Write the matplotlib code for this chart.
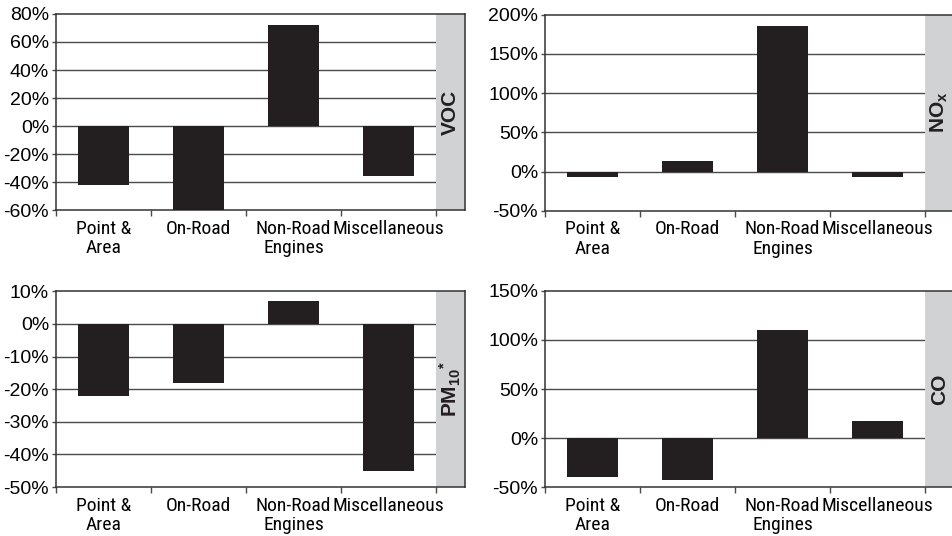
import matplotlib
matplotlib.use("Agg")
import matplotlib.pyplot as plt
from matplotlib.ticker import FuncFormatter, FixedLocator

categories = ["Point &\nArea", "On-Road", "Non-Road\nEngines", "Miscellaneous"]

voc = [-42, -60, 72, -36]
nox = [-7, 14, 185, -7]
pm10 = [-22, -18, 7, -45]
co = [-40, -43, 110, 17]

voc_ticks = [-60, -40, -20, 0, 20, 40, 60, 80]
nox_ticks = [-50, 0, 50, 100, 150, 200]
pm10_ticks = [-50, -40, -30, -20, -10, 0, 10]
co_ticks = [-50, 0, 50, 100, 150]

plt.rcParams["font.family"] = ["Liberation Sans", "DejaVu Sans"]
plt.rcParams["mathtext.fontset"] = "custom"
plt.rcParams["mathtext.rm"] = "Liberation Sans:bold"
plt.rcParams["mathtext.bf"] = "Liberation Sans:bold"
plt.rcParams["mathtext.it"] = "Liberation Sans:bold"

CAT_FONT = ["Roboto Condensed", "Liberation Sans"]
BAR = "#231f20"
GRID = "#4a4a4a"
STRIP = "#d1d2d4"
W, H = 952, 536

fig = plt.figure(figsize=(W / 100, H / 100), dpi=100)

# plot-area pixel boxes: left, top, right edge of category area, bottom
boxes = {
    "tl": (56, 14, 436, 210),
    "tr": (545, 14.7, 925, 210.7),
    "bl": (56, 291.3, 436, 487),
    "br": (545, 290.7, 925, 487.3),
}
strip_w = 29

panels = [
    ("tl", voc, voc_ticks, "VOC"),
    ("tr", nox, nox_ticks, r"NO$_\mathregular{x}$"),
    ("bl", pm10, pm10_ticks, r"PM$_\mathregular{10}$$^{\mathregular{*}}$"),
    ("br", co, co_ticks, "CO"),
]

for key, vals, ticks, label in panels:
    l, t, r, b = boxes[key]
    ax = fig.add_axes([l / W, 1 - b / H, (r - l + strip_w) / W, (b - t) / H])
    slot = (r - l) / 4
    xmax = 3.5 + strip_w / slot
    x = list(range(len(categories)))
    ax.bar(x, vals, width=0.54, color=BAR, zorder=3)
    ax.set_xlim(-0.5, xmax)
    ax.set_ylim(ticks[0], ticks[-1])
    ax.axvspan(3.5, xmax, color=STRIP, zorder=2, lw=0)
    for v in ticks[1:-1]:
        ax.axhline(v, color=GRID, lw=1.0, zorder=1)
    ax.set_yticks(ticks)
    ax.yaxis.set_major_formatter(FuncFormatter(lambda v, p: f"{int(v)}%"))
    ax.tick_params(axis="y", length=3, width=1, color=GRID, labelsize=14, pad=2)
    ax.set_xticks(x)
    ax.set_xticklabels(categories, family=CAT_FONT, fontsize=14, linespacing=1.1)
    ax.tick_params(axis="x", which="major", length=0, pad=7)
    ax.xaxis.set_minor_locator(FixedLocator([-0.5, 0.5, 1.5, 2.5, 3.5]))
    ax.tick_params(axis="x", which="minor", length=4, width=1, color=GRID)
    for s in ax.spines.values():
        s.set_color("#333333")
        s.set_linewidth(1.1)
    ax.text((3.5 + xmax) / 2, (ticks[0] + ticks[-1]) / 2, label, rotation=90,
            ha="center", va="center", fontsize=15, fontweight="bold",
            color="#231f20", zorder=4)

fig.savefig("out.png", dpi=100)
